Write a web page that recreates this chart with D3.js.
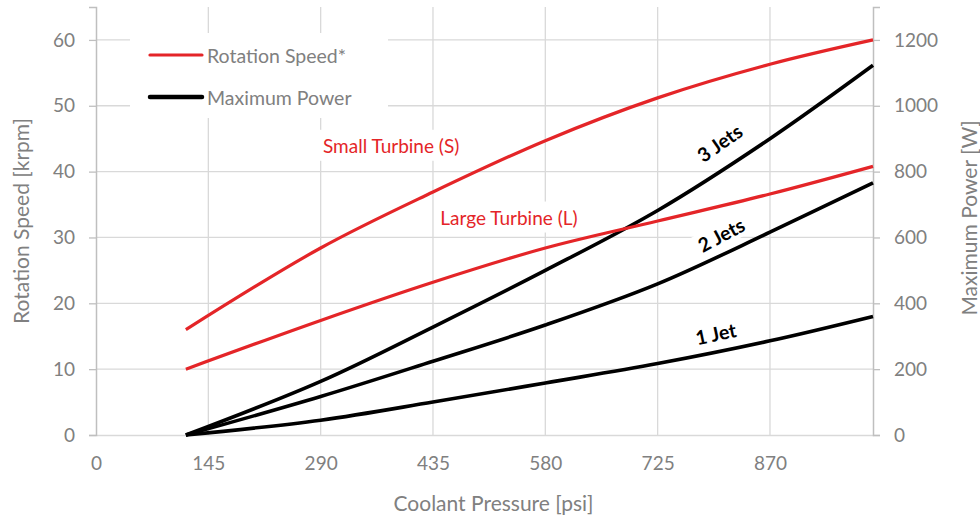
<!DOCTYPE html>
<html>
<head>
<meta charset="utf-8">
<script src="https://cdn.jsdelivr.net/npm/d3@7"></script>
<style>
  body { margin: 0; background: #fff; }
  text { font-family: Lato, "Open Sans", sans-serif; }
</style>
</head>
<body>
<div class="chart"></div>
<script>
// data
var pressure = [116, 290, 435, 580, 725, 870, 1003];
var smallTurbine = [16, 28.4, 36.9, 44.7, 51.2, 56.3, 60];
var largeTurbine = [10, 17.4, 23.2, 28.4, 32.5, 36.6, 40.8];
var jets3 = [0, 163, 328, 500, 682, 900, 1123];
var jets2 = [0, 117, 224, 334, 459, 616, 766];
var jets1 = [0, 45, 100, 158, 217, 286, 360];

var xTicks = [0, 145, 290, 435, 580, 725, 870];
var speedTicks = [0, 10, 20, 30, 40, 50, 60];
var powerTicks = [0, 200, 400, 600, 800, 1000, 1200];
var legendLabels = ["Rotation Speed*", "Maximum Power"];
var turbineLabels = ["Small Turbine (S)", "Large Turbine (L)"];
var jetLabels = ["3 Jets", "2 Jets", "1 Jet"];

var svgWidth = 980;
var svgHeight = 520;
var margin = { top: 7, right: 107, bottom: 85, left: 96 };
var width = svgWidth - margin.left - margin.right;
var height = svgHeight - margin.top - margin.bottom;

var red = "#e42528";
var grey = "#808080";

var svg = d3.select(".chart")
  .append("svg")
  .attr("width", svgWidth)
  .attr("height", svgHeight);

var chartGroup = svg.append("g")
  .attr("transform", `translate(${margin.left}, ${margin.top})`);

// scales
var x = d3.scaleLinear().domain([0, 1003]).range([0, width]);
var ySpeed = d3.scaleLinear().domain([0, 65]).range([height, 0]);
var yPower = d3.scaleLinear().domain([0, 1300]).range([height, 0]);

// gridlines
chartGroup.append("g")
  .selectAll("line.h")
  .data(speedTicks.slice(1))
  .enter().append("line")
  .attr("x1", 0).attr("x2", width)
  .attr("y1", d => ySpeed(d)).attr("y2", d => ySpeed(d))
  .attr("stroke", "#d9d9d9").attr("stroke-width", 1.3);

chartGroup.append("g")
  .selectAll("line.v")
  .data(xTicks.slice(1))
  .enter().append("line")
  .attr("x1", d => x(d)).attr("x2", d => x(d))
  .attr("y1", 0).attr("y2", height)
  .attr("stroke", "#d9d9d9").attr("stroke-width", 1.3);

// axes
var bottomAxis = d3.axisBottom(x).tickValues(xTicks).tickSize(0).tickPadding(22);
var leftAxis = d3.axisLeft(ySpeed).tickValues(speedTicks).tickSize(7).tickPadding(14);
var rightAxis = d3.axisRight(yPower).tickValues(powerTicks).tickSize(7).tickPadding(14)
  .tickFormat(d3.format("d"));

var gx = chartGroup.append("g")
  .attr("transform", `translate(0, ${height})`)
  .call(bottomAxis);
gx.select(".domain").attr("stroke", "#d9d9d9").attr("stroke-width", 1.3);

var gl = chartGroup.append("g").call(leftAxis);
var gr = chartGroup.append("g").attr("transform", `translate(${width}, 0)`).call(rightAxis);

[gx, gl, gr].forEach(function(g) {
  g.selectAll("text").attr("fill", grey).style("font-size", "19px")
    .style("font-family", "Lato, sans-serif");
});
[gl, gr].forEach(function(g) {
  g.select(".domain").attr("stroke", "#bfbfbf").attr("stroke-width", 1.5);
  g.selectAll(".tick line").attr("stroke", "#bfbfbf").attr("stroke-width", 1.3);
});

// legend box (white, hides gridlines)
chartGroup.append("rect")
  .attr("x", 34).attr("y", 26).attr("width", 258).attr("height", 85)
  .attr("fill", "#fff");

// curve labels with white backgrounds
var labelPos = [
  { px: 381, v: 44, color: red },
  { px: 533, v: 33.1, color: red }
];

chartGroup.selectAll("g.tlabel")
  .data(turbineLabels)
  .enter().append("g")
  .attr("class", "tlabel")
  .each(function(d, i) {
    var g = d3.select(this);
    var t = g.append("text")
      .attr("x", x(labelPos[i].px))
      .attr("y", ySpeed(labelPos[i].v))
      .attr("text-anchor", "middle")
      .attr("dominant-baseline", "central")
      .attr("fill", labelPos[i].color)
      .style("font-size", "19px")
      .text(d);
    var b = t.node().getBBox();
    g.insert("rect", "text")
      .attr("x", b.x - 6).attr("y", b.y - 4)
      .attr("width", b.width + 12).attr("height", b.height + 8)
      .attr("fill", "#fff");
  });

var jetPos = [
  { px: 805, w: 887, angle: -35 },
  { px: 807, w: 608, angle: -28 },
  { px: 800, w: 308, angle: -12 }
];

var jetGroups = chartGroup.selectAll("g.jlabel")
  .data(jetLabels)
  .enter().append("g")
  .attr("class", "jlabel")
  .attr("transform", (d, i) => `translate(${x(jetPos[i].px)}, ${yPower(jetPos[i].w)}) rotate(${jetPos[i].angle})`);

// lines
var speedLine = d3.line()
  .x((d, i) => x(pressure[i]))
  .y(d => ySpeed(d))
  .curve(d3.curveCatmullRom.alpha(0.5));

var powerLine = d3.line()
  .x((d, i) => x(pressure[i]))
  .y(d => yPower(d))
  .curve(d3.curveCatmullRom.alpha(0.5));

chartGroup.selectAll("path.power")
  .data([jets3, jets2, jets1])
  .enter().append("path")
  .attr("class", "power")
  .attr("d", powerLine)
  .attr("fill", "none")
  .attr("stroke", "#000")
  .attr("stroke-width", 3.6);

chartGroup.selectAll("path.speed")
  .data([smallTurbine, largeTurbine])
  .enter().append("path")
  .attr("class", "speed")
  .attr("d", speedLine)
  .attr("fill", "none")
  .attr("stroke", red)
  .attr("stroke-width", 3.2);

jetGroups.each(function(d) {
  var g = d3.select(this);
  var t = g.append("text")
    .attr("text-anchor", "middle")
    .attr("dominant-baseline", "central")
    .attr("fill", "#000")
    .style("font-size", "19.5px")
    .style("font-weight", "bold")
    .text(d);
  var b = t.node().getBBox();
  g.insert("rect", "text")
    .attr("x", b.x - 3).attr("y", b.y)
    .attr("width", b.width + 6).attr("height", b.height)
    .attr("fill", "#fff");
});

// legend
var legend = chartGroup.selectAll("g.legend")
  .data(legendLabels)
  .enter().append("g")
  .attr("class", "legend")
  .attr("transform", (d, i) => `translate(54, ${48 + i * 42})`);

legend.append("line")
  .attr("x1", 0).attr("x2", 52)
  .attr("stroke", (d, i) => i === 0 ? red : "#000")
  .attr("stroke-width", (d, i) => i === 0 ? 3.2 : 4.5)
  .attr("stroke-linecap", "round");

legend.append("text")
  .attr("x", 57)
  .attr("dominant-baseline", "central")
  .attr("fill", grey)
  .style("font-size", "19.5px")
  .text(d => d);

// axis titles
chartGroup.append("text")
  .attr("transform", `translate(${width / 2 + 9}, ${height + 76})`)
  .attr("text-anchor", "middle")
  .attr("fill", grey)
  .style("font-size", "21px")
  .text("Coolant Pressure [psi]");

chartGroup.append("text")
  .attr("transform", `translate(${20 - margin.left}, ${221 - margin.top}) rotate(-90)`)
  .attr("text-anchor", "middle")
  .attr("dominant-baseline", "central")
  .attr("fill", grey)
  .style("font-size", "21px")
  .text("Rotation Speed [krpm]");

chartGroup.append("text")
  .attr("transform", `translate(${968 - margin.left}, ${218 - margin.top}) rotate(-90)`)
  .attr("text-anchor", "middle")
  .attr("dominant-baseline", "central")
  .attr("fill", grey)
  .style("font-size", "21px")
  .text("Maximum Power [W]");
</script>
</body>
</html>
